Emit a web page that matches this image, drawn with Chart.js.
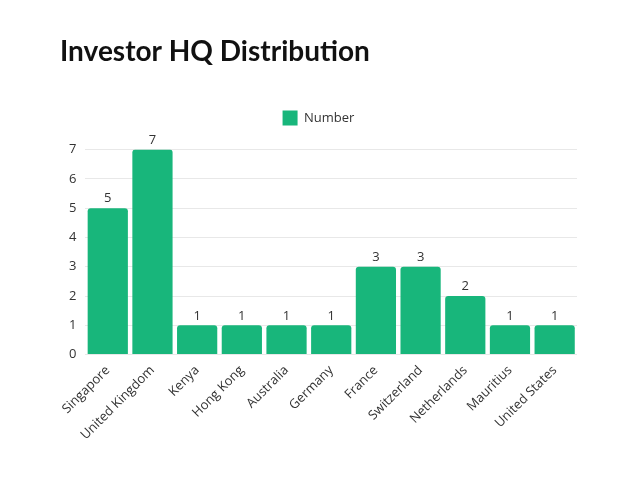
<!DOCTYPE html>
<html>
<head>
<meta charset="utf-8">
<script src="https://cdn.jsdelivr.net/npm/chart.js@4"></script>
<style>
  html, body { margin: 0; padding: 0; background: #fff; }
  #wrap { width: 640px; height: 480px; }
</style>
</head>
<body>
<div id="wrap"><canvas id="hq-chart"></canvas></div>
<script>
const countries = ['Singapore', 'United Kingdom', 'Kenya', 'Hong Kong', 'Australia', 'Germany',
  'France', 'Switzerland', 'Netherlands', 'Mauritius', 'United States'];
const investors = [5, 7, 1, 1, 1, 1, 3, 3, 2, 1, 1];
const yTicks = [0, 1, 2, 3, 4, 5, 6, 7];

// draws the value above each bar
const barValues = {
  id: 'barValues',
  afterDatasetsDraw(chart) {
    const ctx = chart.ctx;
    const meta = chart.getDatasetMeta(0);
    ctx.save();
    ctx.font = '13px "Open Sans"';
    ctx.fillStyle = '#333';
    ctx.textAlign = 'center';
    ctx.textBaseline = 'bottom';
    meta.data.forEach((bar, i) => {
      ctx.fillText(investors[i], bar.x, bar.y - 3);
    });
    ctx.restore();
  }
};

// extra room between legend and plot
const legendGap = {
  id: 'legendGap',
  beforeInit(chart) {
    const fit = chart.legend.fit;
    chart.legend.fit = function () {
      fit.bind(chart.legend)();
      this.height += 14;
    };
  }
};

const chartHQ = document.getElementById('hq-chart');
new Chart(chartHQ, {
  type: 'bar',
  data: {
    labels: countries,
    datasets: [{
      label: 'Number',
      data: investors,
      backgroundColor: '#18b67b',
      borderRadius: 3,
      borderSkipped: 'bottom',
      barPercentage: 0.9,
      categoryPercentage: 1.0
    }]
  },
  options: {
    responsive: true,
    maintainAspectRatio: false,
    animation: false,
    layout: {
      padding: { left: 60, right: 63, top: 35, bottom: 37 }
    },
    scales: {
      x: {
        grid: { display: false },
        border: { display: false },
        ticks: {
          color: '#333',
          font: { family: 'Open Sans', size: 13 },
          maxRotation: 45,
          minRotation: 45,
          padding: 0
        }
      },
      y: {
        min: 0,
        max: 7,
        afterBuildTicks(axis) {
          axis.ticks = yTicks.map(v => ({ value: v }));
        },
        grid: { color: '#e8e8e8', drawTicks: false },
        border: { display: false },
        ticks: {
          color: '#333',
          font: { family: 'Open Sans', size: 13 },
          padding: 9
        }
      }
    },
    plugins: {
      title: {
        display: true,
        text: 'Investor HQ Distribution',
        align: 'start',
        color: '#111',
        font: { family: 'Lato', size: 28, weight: 'bold' },
        padding: { top: 0, bottom: 22 }
      },
      legend: {
        display: true,
        labels: {
          color: '#333',
          font: { family: 'Open Sans', size: 13 },
          boxWidth: 15,
          boxHeight: 15,
          padding: 20
        }
      },
      tooltip: { enabled: false }
    }
  },
  plugins: [barValues, legendGap]
});
</script>
</body>
</html>
